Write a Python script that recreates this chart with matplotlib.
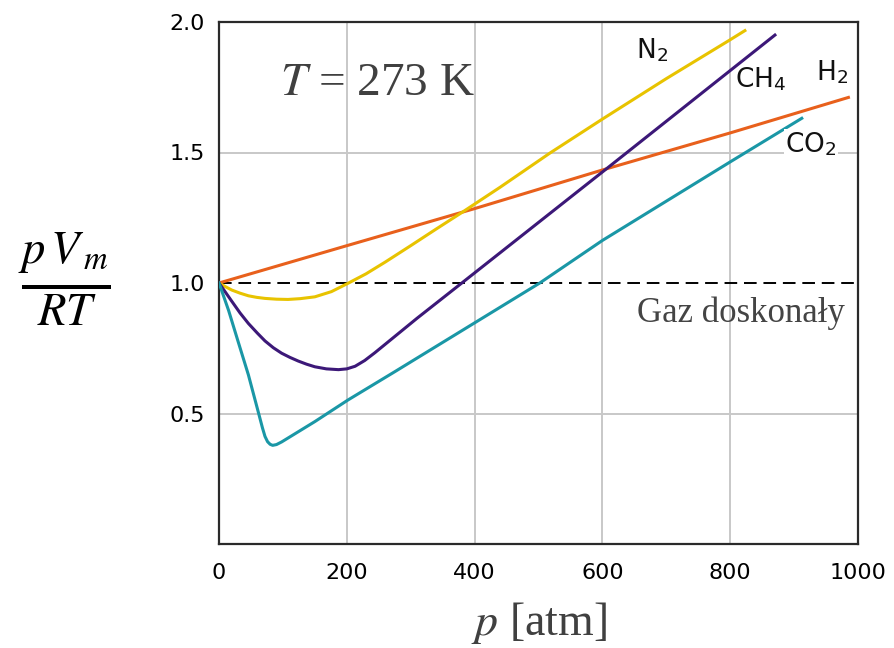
import matplotlib.pyplot as plt

plt.rcParams['mathtext.fontset'] = 'stix'

# values (p in atm, pV_m/RT)
h2_p = [0, 200, 400, 600, 800, 985]
h2_z = [1.0, 1.143, 1.285, 1.433, 1.575, 1.711]

n2_p = [0, 10, 20, 33, 46, 59, 72, 90, 108, 127, 150, 176, 202, 230, 260, 300, 340,
        380, 440, 518, 600, 700, 800, 823]
n2_z = [1.0, 0.986, 0.973, 0.961, 0.951, 0.945, 0.941, 0.938, 0.937, 0.940, 0.947, 0.967,
        0.999, 1.035, 1.08, 1.143, 1.207, 1.27, 1.367, 1.498, 1.628, 1.783, 1.932, 1.967]

ch4_p = [0, 10, 20, 33, 46, 60, 72, 85, 98, 111, 124, 137, 150, 168, 187, 200, 213,
         228, 244, 260, 275, 310, 380, 605, 870]
ch4_z = [1.0, 0.965, 0.93, 0.885, 0.845, 0.808, 0.778, 0.752, 0.731, 0.715, 0.701, 0.689,
         0.679, 0.671, 0.668, 0.671, 0.681, 0.703, 0.733, 0.765, 0.795, 0.865, 1.0, 1.435, 1.95]

co2_p = [0, 15, 30, 46, 61, 68, 72, 76, 80, 84, 90, 98, 150, 202, 275, 502, 600, 800, 912]
co2_z = [1.0, 0.895, 0.775, 0.648, 0.51, 0.445, 0.412, 0.392, 0.382, 0.378, 0.381, 0.391,
         0.469, 0.552, 0.66, 1.0, 1.163, 1.464, 1.631]

fig = plt.figure(figsize=(8.95, 6.48), dpi=100)
ax = fig.add_axes([219 / 895, 1 - 544 / 648, (858 - 219) / 895, (544 - 22) / 648])

ax.plot(h2_p, h2_z, color='#e8601c', lw=2.2, zorder=3)
ax.plot(n2_p, n2_z, color='#e8c300', lw=2.2, zorder=3)
ax.plot(ch4_p, ch4_z, color='#3c1878', lw=2.2, zorder=3)
ax.plot(co2_p, co2_z, color='#1a97a6', lw=2.2, zorder=3)
ax.axhline(1.0, color='black', lw=1.4, dashes=(6.5, 3.5), zorder=2)

ax.set_xlim(0, 1000)
ax.set_ylim(0, 2.0)
ax.set_xticks([0, 200, 400, 600, 800, 1000])
ax.set_yticks([0.5, 1.0, 1.5, 2.0])
ax.set_yticklabels(['0.5', '1.0', '1.5', '2.0'])
for v in [200, 400, 600, 800]:
    ax.axvline(v, color='#c8c8c8', lw=1.4, zorder=1)
for v in [0.5, 1.5]:
    ax.axhline(v, color='#c8c8c8', lw=1.4, zorder=1)

ax.tick_params(axis='x', length=0, pad=14, labelsize=16)
ax.tick_params(axis='y', length=0, pad=10, labelsize=16)
for s in ax.spines.values():
    s.set_linewidth(1.6)
    s.set_color('#2a2a2a')

ax.text(95, 1.72, r'$T$ = 273 K', fontsize=34, family='Liberation Serif',
        color='#404040', va='baseline')
ax.text(980, 0.852, 'Gaz doskonały', fontsize=25, family='Liberation Serif',
        color='#444444', ha='right', va='baseline')

lab_kw = dict(fontsize=19, color='#111111', va='baseline')
ax.text(652, 1.862, r'N$_\mathregular{2}$', **lab_kw)
ax.text(808, 1.751, r'CH$_\mathregular{4}$', **lab_kw)
ax.text(934, 1.778, r'H$_\mathregular{2}$', **lab_kw)
ax.text(886, 1.502, r'CO$_\mathregular{2}$', zorder=4,
        bbox=dict(facecolor='white', edgecolor='none', pad=1), **lab_kw)

ax.set_xlabel(r'$p$ [atm]', fontsize=33, family='Liberation Serif', color='#404040',
              va='baseline')
ax.xaxis.set_label_coords(0.5, -0.174)
ax.set_ylabel(r'$\frac{p\,V_{\,m}}{RT}$', fontsize=48, rotation=0, ha='center', va='center')
ax.yaxis.set_label_coords(-0.2426, 0.5077)

fig.savefig('out.png', dpi=100)
